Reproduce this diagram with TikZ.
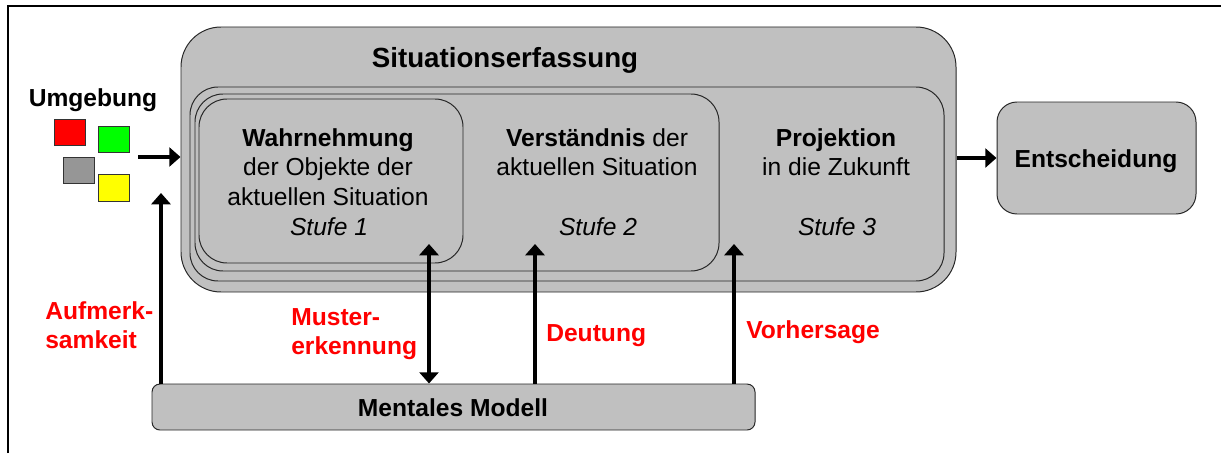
\documentclass[tikz,border=0pt]{standalone}
\usepackage{fontspec}
\setmainfont{Liberation Sans}
\usetikzlibrary{arrows.meta,fit}
\definecolor{boxgray}{HTML}{C0C0C0}
\definecolor{sqgray}{HTML}{969696}
\definecolor{sqgreen}{HTML}{00FF00}
\definecolor{sqyellow}{HTML}{FFFF00}
\definecolor{sqred}{HTML}{FF0000}
\definecolor{lblred}{HTML}{FF0000}
\begin{document}
\begin{tikzpicture}[x=0.025cm,y=-0.025cm,
  box/.style={draw=black!85,line width=0.7pt,fill=boxgray,inner sep=0pt},
  txt/.style={anchor=base,inner sep=0pt,font=\fontsize{17.5pt}{21pt}\selectfont},
  btxt/.style={txt,font=\fontsize{17.5pt}{21pt}\selectfont\bfseries},
  itxt/.style={txt,font=\fontsize{17.5pt}{21pt}\selectfont\itshape},
  redlbl/.style={anchor=base west,inner sep=0pt,text=lblred,font=\fontsize{17.5pt}{21pt}\selectfont\bfseries},
  arr/.style={line width=2.4pt,-{Triangle[length=8pt,width=13.5pt]}},
  dblarr/.style={line width=2.4pt,{Triangle[length=8pt,width=13.5pt]}-{Triangle[length=8pt,width=13.5pt]}},
  sq/.style={draw=black!80,line width=0.6pt}]

\useasboundingbox (0,0) rectangle (1221,453);

% page frame (top and left edges)
\draw[line width=1.5pt] (8,453) -- (8,6) -- (1221,6);

% situation awareness block with its three nested stages
\node[box, rounded corners=1cm, fit={(181,27) (956,292)}] (sa) {};
\node[box, rounded corners=0.7cm, fit={(190,87) (944,281)}] (st3) {};
\node[box, rounded corners=0.7cm, fit={(195,94) (719,271)}] (st2) {};
\node[box, rounded corners=0.7cm, fit={(199,99) (463,263)}] (st1) {};

\node[txt, font=\fontsize{19.7pt}{24pt}\selectfont\bfseries] (satitle) at (505,67) {Situationserfassung};

% stage 1
\node[btxt] (s1a) at (328,146) {Wahrnehmung};
\node[txt]  (s1b) at (328,175) {der Objekte der};
\node[txt]  (s1c) at (328,205) {aktuellen Situation};
\node[itxt] (s1d) at (329,235) {Stufe 1};

% stage 2
\node[txt] (s2a) at (597,146) {\textbf{Verständnis} der};
\node[txt] (s2b) at (597,175) {aktuellen Situation};
\node[itxt] (s2d) at (598,235) {Stufe 2};

% stage 3
\node[btxt] (s3a) at (836,146) {Projektion};
\node[txt]  (s3b) at (836,175) {in die Zukunft};
\node[itxt] (s3d) at (837,235) {Stufe 3};

% decision and mental model
\node[box, rounded corners=0.5cm, fit={(997,102) (1196,214)}] (ent) {};
\node[btxt] (enttxt) at (1096,167) {Entscheidung};

\node[box, rounded corners=0.2cm, fit={(152,384) (755,430)}] (mm) {};
\node[btxt] (mmtxt) at (453,416) {Mentales Modell};

% environment
\node[btxt] (umg) at (93,107) {Umgebung};
\draw[sq, fill=sqred]    (54,119) rectangle (85,145);
\draw[sq, fill=sqgreen]  (98,126) rectangle (129,152);
\draw[sq, fill=sqgray]   (63,157) rectangle (94,183);
\draw[sq, fill=sqyellow] (98,174) rectangle (129,201);

% connectors
\coordinate (envout) at (138,157);
\draw[arr] (envout) -- (sa.west |- envout);
\draw[arr] (sa.east |- ent.west) -- (ent.west);

\coordinate (auftip) at (161,193);
\draw[arr] (mm.north -| auftip) -- (auftip);
\coordinate (mustip) at (429,244);
\draw[dblarr] (mm.north -| mustip) -- (mustip);
\coordinate (deutip) at (535,244);
\draw[arr] (mm.north -| deutip) -- (deutip);
\coordinate (vortip) at (734,244);
\draw[arr] (mm.north -| vortip) -- (vortip);

% connector labels
\node[redlbl] (auf1) at (45,319) {Aufmerk-};
\node[redlbl] (auf2) at (45,348) {samkeit};
\node[redlbl] (mus1) at (291,325) {Muster-};
\node[redlbl] (mus2) at (291,354) {erkennung};
\node[redlbl] (deu)  at (546,341) {Deutung};
\node[redlbl] (vor)  at (746,338) {Vorhersage};
\end{tikzpicture}
\end{document}
